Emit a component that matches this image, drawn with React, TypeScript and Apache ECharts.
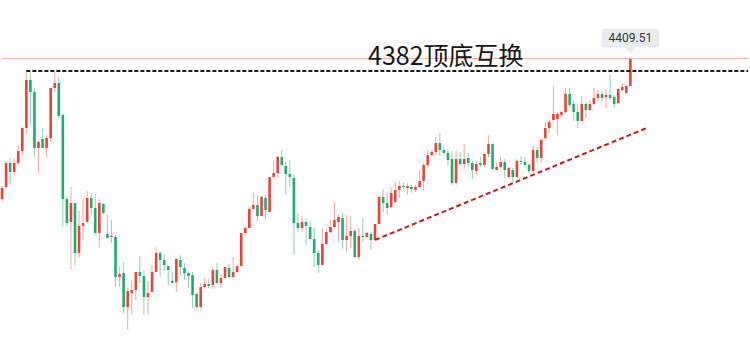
import React, { useEffect, useRef } from 'react';
import * as echarts from 'echarts';

const opens = [
  4093.25, 4120.25, 4174.25, 4154, 4174.25, 4201.25, 4253, 4361, 4334, 4208,
  4228.25, 4208, 4230.5, 4343, 4354.25, 4282.25, 4093.25, 4041.5, 4084.25, 3971.75,
  4032.5, 4041.5, 4095.5, 4073, 4016.75, 4082, 4014.5, 4007.75, 4007.75, 3917.75,
  3926.75, 3850.25, 3881.75, 3888.5, 3929, 3920, 3872.75, 3884, 3929, 3971.75,
  3956, 3942.5, 3908.75, 3906.5, 3956, 3938, 3926.75, 3922.25, 3879.5, 3850.25,
  3895.25, 3902, 3899.75, 3933.5, 3904.25, 3915.5, 3938, 3917.75, 3929, 3942.5,
  4016.75, 4028, 4070.75, 4079.75, 4055, 4095.5, 4064, 4142.75, 4151.75, 4187.75,
  4167.5, 4149.5, 4140.5, 4039.25, 4028, 4041.5, 4030.25, 4003.25, 3971.75, 3944.75,
  3992, 4019, 4030.25, 4041.5, 4050.5, 4001, 4010, 4021.25, 3962.75, 4010,
  4007.75, 4014.5, 4001, 4037, 4097.75, 4084.25, 4075.25, 4086.5, 4113.5, 4122.5,
  4118, 4120.25, 4113.5, 4120.25, 4133.75, 4169.75, 4192.25, 4199, 4219.25, 4203.5,
  4196.75, 4183.25, 4129.25, 4183.25, 4172, 4185.5, 4174.25, 4156.25, 4174.25, 4169.75,
  4194.5, 4217, 4158.5, 4165.25, 4176.5, 4142.75, 4158.5, 4142.75, 4178.75, 4176.5,
  4169.75, 4156.25, 4203.5, 4185.5, 4230.5, 4253, 4271, 4273.25, 4282.25, 4289,
  4329.5, 4307, 4289, 4268.75, 4307, 4293.5, 4307, 4320.5, 4329.5, 4322.75,
  4327.25, 4322.75, 4309.25, 4338.5, 4331.75, 4347.5,
];

const closes = [
  4118, 4174.25, 4154, 4174.25, 4201.25, 4253, 4361, 4334, 4208, 4221.5,
  4208, 4230.5, 4343, 4354.25, 4280, 4093.25, 4039.25, 4084.25, 3971.75, 4032.5,
  4039.25, 4095.5, 4073, 4016.75, 4084.25, 4061.75, 4005.5, 4010, 3917.75, 3924.5,
  3850.25, 3886.25, 3888.5, 3929, 3920, 3872.75, 3881.75, 3929, 3971.75, 3956,
  3944.75, 3933.5, 3904.25, 3958.25, 3940.25, 3926.75, 3920, 3877.25, 3850.25, 3895.25,
  3902, 3897.5, 3933.5, 3904.25, 3915.5, 3940.25, 3917.75, 3929, 3942.5, 4016.75,
  4028, 4070.75, 4079.75, 4055, 4097.75, 4068.5, 4142.75, 4151.75, 4187.75, 4169.75,
  4149.5, 4142.75, 4039.25, 4028, 4041.5, 4032.5, 4003.25, 3971.75, 3944.75, 3992,
  4019, 4030.25, 4046, 4052.75, 4001, 4010, 4021.25, 3962.75, 4010, 4007.75,
  4016.75, 4001, 4037, 4097.75, 4084.25, 4073, 4106.75, 4113.5, 4122.5, 4120.25,
  4122.5, 4115.75, 4120.25, 4133.75, 4169.75, 4192.25, 4199, 4219.25, 4203.5, 4196.75,
  4181, 4129.25, 4183.25, 4172, 4183.25, 4174.25, 4158.5, 4172, 4169.75, 4194.5,
  4217, 4160.75, 4165.25, 4176.5, 4158.5, 4163, 4142.75, 4178.75, 4176.5, 4169.75,
  4156.25, 4203.5, 4185.5, 4226, 4253, 4266.5, 4284.5, 4284.5, 4289, 4329.5,
  4304.75, 4289, 4268.75, 4307, 4293.5, 4307, 4320.5, 4329.5, 4320.5, 4327.25,
  4320.5, 4307, 4340.75, 4345.25, 4347.5, 4409.51,
];

const lows = [
  4088.75, 4118, 4124.75, 4147.25, 4169.75, 4192.25, 4239.5, 4259.75, 4187.75, 4151.75,
  4208, 4187.75, 4221.5, 4334, 4275.5, 4030.25, 4030.25, 3935.75, 3944.75, 3960.5,
  4001, 4041.5, 4057.25, 4014.5, 3983, 4059.5, 4005.5, 3994.25, 3895.25, 3895.25,
  3836.75, 3798.5, 3832.25, 3866, 3904.25, 3832.25, 3832.25, 3884, 3929, 3917.75,
  3931.25, 3899.75, 3904.25, 3884, 3922.25, 3911, 3893, 3848, 3848, 3848,
  3890.75, 3893, 3890.75, 3904.25, 3893, 3915.5, 3915.5, 3917.75, 3929, 3942.5,
  4016.75, 4028, 4068.5, 4043.75, 4055, 4046, 4064, 4142.75, 4142.75, 4167.5,
  4102.25, 4120.25, 3967.25, 4019, 4019, 3989.75, 4003.25, 3940.25, 3926.75, 3944.75,
  3989.75, 4016.75, 4028, 3996.5, 3980.75, 3974, 3983, 3960.5, 3956, 3996.5,
  4007.75, 3978.5, 4001, 4034.75, 4064, 4057.25, 4073, 4084.25, 4095.5, 4115.75,
  4102.25, 4106.75, 4109, 4118, 4111.25, 4165.25, 4190, 4190, 4190, 4194.5,
  4167.5, 4124.75, 4127, 4167.5, 4160.75, 4165.25, 4138.25, 4149.5, 4165.25, 4165.25,
  4187.75, 4158.5, 4158.5, 4163, 4140.5, 4140.5, 4129.25, 4140.5, 4169.75, 4167.5,
  4151.75, 4151.75, 4174.25, 4174.25, 4226, 4241.75, 4266.5, 4237.25, 4277.75, 4284.5,
  4300.25, 4268.75, 4253, 4266.5, 4275.5, 4291.25, 4304.75, 4311.5, 4313.75, 4298,
  4316, 4298, 4307, 4336.25, 4329.5, 4347.5,
];

const highs = [
  4122.5, 4178.75, 4185.5, 4185.5, 4214.75, 4255.25, 4381.25, 4376.75, 4343, 4226,
  4253, 4237.25, 4343, 4379, 4367.75, 4286.75, 4097.75, 4120.25, 4084.25, 4066.25,
  4093.25, 4111.25, 4106.75, 4104.5, 4093.25, 4084.25, 4057.25, 4046, 4012.25, 3940.25,
  3951.5, 3893, 3908.75, 3929, 3965, 3933.5, 3908.75, 3944.75, 3985.25, 3976.25,
  3969.5, 3942.5, 3929, 3960.5, 3967.25, 3949.25, 3929, 3929, 3881.75, 3904.25,
  3915.5, 3913.25, 3940.25, 3949.25, 3924.5, 3940.25, 3947, 3962.75, 3944.75, 4016.75,
  4032.5, 4075.25, 4106.75, 4102.25, 4100, 4102.25, 4142.75, 4181, 4190, 4203.5,
  4176.5, 4181, 4149.5, 4061.75, 4055, 4050.5, 4043.75, 4028, 3978.5, 4028,
  4025.75, 4046, 4086.5, 4057.25, 4061.75, 4057.25, 4055, 4025.75, 4028, 4050.5,
  4019, 4019, 4037, 4100, 4115.75, 4109, 4118, 4131.5, 4133.75, 4131.5,
  4129.25, 4124.75, 4124.75, 4158.5, 4174.25, 4203.5, 4203.5, 4232.75, 4241.75, 4212.5,
  4203.5, 4201.25, 4201.25, 4199, 4217, 4196.75, 4178.75, 4178.75, 4187.75, 4196.75,
  4237.25, 4219.25, 4174.25, 4187.75, 4183.25, 4165.25, 4163, 4183.25, 4190, 4187.75,
  4172, 4212.5, 4210.25, 4230.5, 4266.5, 4271, 4347.5, 4289, 4291.25, 4343,
  4343, 4316, 4309.25, 4325, 4311.5, 4316, 4343, 4338.5, 4336.25, 4340.75,
  4372.25, 4327.25, 4343, 4354.25, 4349.75, 4409.51,
];

const titleText = '4382顶底互换';
const levelPrice = 4382;
const peakPrice = 4409.51;
const levelStartIndex = 6;
const trendStart = [92, 4001];
const trendEnd = [159, 4253];
const axisSlots = 185;

const RED = '#ef4136';
const RED_WICK = '#f5a7a2';
const GREEN = '#1fab70';
const GREEN_WICK = '#8fd3b3';

export default function App() {
  const ref = useRef<HTMLDivElement>(null);

  useEffect(() => {
    if (!ref.current) return;
    const chart = echarts.init(ref.current, null, { renderer: 'svg' });
    const data = opens.map((o, i) => [i, o, closes[i], lows[i], highs[i]]);
    const categories = Array.from({ length: axisSlots }, (_, i) => String(i));
    const lastIndex = axisSlots - 1;

    chart.setOption({
      animation: false,
      grid: { left: -2.7, top: 0, width: 754.8, height: 345 },
      xAxis: { type: 'category', data: categories, show: false, boundaryGap: true },
      yAxis: { type: 'value', min: 3764.75, max: 4541, show: false },
      graphic: [
        {
          type: 'text',
          left: 368,
          top: 41,
          z: 10,
          style: {
            text: titleText,
            fontSize: 25,
            fontFamily: 'Noto Sans CJK SC',
            fill: '#161616',
          },
        },
      ],
      series: [
        {
          type: 'custom',
          data,
          encode: { x: 0, y: [1, 2, 3, 4] },
          renderItem: (params: any, api: any) => {
            const x = api.value(0);
            const o = api.value(1);
            const c = api.value(2);
            const l = api.value(3);
            const h = api.value(4);
            const po = api.coord([x, o]);
            const pc = api.coord([x, c]);
            const pl = api.coord([x, l]);
            const ph = api.coord([x, h]);
            const up = c >= o;
            const bw = api.size([1, 0])[0] * 0.64;
            const top = Math.min(po[1], pc[1]);
            const hgt = Math.max(Math.abs(po[1] - pc[1]), 1);
            return {
              type: 'group',
              children: [
                {
                  type: 'line',
                  shape: { x1: po[0], y1: ph[1], x2: po[0], y2: pl[1] },
                  style: { stroke: up ? RED_WICK : GREEN_WICK, lineWidth: 1 },
                },
                {
                  type: 'rect',
                  shape: { x: po[0] - bw / 2, y: top, width: bw, height: hgt },
                  style: { fill: up ? RED : GREEN },
                },
              ],
            };
          },
          markLine: {
            silent: true,
            symbol: ['none', 'none'],
            label: { show: false },
            data: [
              [
                { coord: [0, peakPrice], lineStyle: { color: '#f5b2ac', width: 1, type: 'solid' } },
                { coord: [lastIndex, peakPrice] },
              ],
              [
                { coord: [levelStartIndex, levelPrice], lineStyle: { color: '#1a1a1a', width: 2, type: [4, 2] } },
                { coord: [lastIndex, levelPrice] },
              ],
              [
                { coord: trendStart, lineStyle: { color: '#c81a1d', width: 2, type: [5, 3] } },
                { coord: trendEnd },
              ],
            ],
          },
          markPoint: {
            silent: true,
            data: [
              {
                coord: [opens.length - 1, peakPrice],
                value: peakPrice,
                symbol: 'triangle',
                symbolRotate: 180,
                symbolSize: [10, 6],
                symbolOffset: [0, -8],
                itemStyle: { color: '#e9ecef' },
                label: {
                  show: true,
                  position: 'top',
                  distance: 0,
                  formatter: '{c}',
                  color: '#333',
                  fontSize: 12,
                  fontFamily: 'Roboto',
                  backgroundColor: '#e9ecef',
                  borderRadius: 3,
                  padding: [4, 7, 3, 7],
                },
              },
            ],
          },
        },
      ],
    });
    return () => chart.dispose();
  }, []);

  return (
    <div
      ref={ref}
      style={{ position: 'absolute', left: 0, top: 0, width: 750, height: 345 }}
    />
  );
}
